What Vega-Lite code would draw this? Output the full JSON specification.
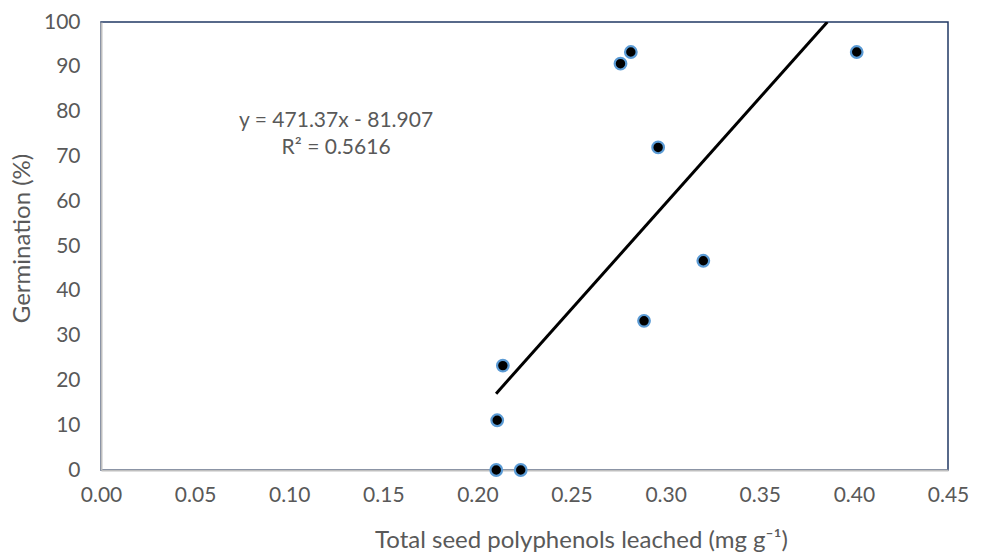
{
  "$schema": "https://vega.github.io/schema/vega-lite/v6.json",
  "width": 847,
  "height": 448,
  "autosize": {"type": "none"},
  "padding": {"left": 101, "top": 22, "right": 34, "bottom": 82},
  "background": "white",
  "config": {
    "font": "Lato",
    "view": {"stroke": "#203864", "strokeWidth": 1.5},
    "axis": {"labelFont": "Lato", "titleFont": "Lato", "labelColor": "#595959", "titleColor": "#595959", "labelFontSize": 21, "titleFontSize": 24, "titleFontWeight": "normal", "grid": false, "ticks": false, "labelFlush": false, "labelOverlap": false, "domainColor": "#BFBFBF", "domainWidth": 2}
  },
  "datasets": {
    "pts": [
      {"x": 0.210, "y": 0},
      {"x": 0.223, "y": 0},
      {"x": 0.2105, "y": 11.1},
      {"x": 0.2135, "y": 23.3},
      {"x": 0.276, "y": 90.7},
      {"x": 0.2815, "y": 93.3},
      {"x": 0.296, "y": 72.0},
      {"x": 0.2885, "y": 33.3},
      {"x": 0.320, "y": 46.7},
      {"x": 0.4015, "y": 93.3}
    ],
    "trend": [
      {"x": 0.2099, "y": 17.03},
      {"x": 0.3859, "y": 100}
    ],
    "label": [
      {"x": 0.1249, "y": 77.8, "t": ["y = 471.37x - 81.907", "R² = 0.5616"]}
    ]
  },
  "layer": [
    {
      "data": {"name": "trend"},
      "mark": {"type": "line", "color": "black", "strokeWidth": 3, "clip": true},
      "encoding": {
        "x": {"field": "x", "type": "quantitative", "scale": {"domain": [0, 0.45], "nice": false, "zero": false},
          "axis": {"values": [0, 0.05, 0.1, 0.15, 0.2, 0.25, 0.3, 0.35, 0.4, 0.45], "format": ".2f", "labelPadding": 14, "title": "Total seed polyphenols leached (mg g⁻¹)", "titleX": 480, "titleY": 70, "titleBaseline": "middle", "titleAnchor": null}},
        "y": {"field": "y", "type": "quantitative", "scale": {"domain": [0, 100], "nice": false},
          "axis": {"values": [0, 10, 20, 30, 40, 50, 60, 70, 80, 90, 100], "labelPadding": 21, "title": "Germination (%)", "titleX": -79, "titleY": 216, "titleBaseline": "middle", "titleAngle": -90}}
      }
    },
    {
      "data": {"name": "pts"},
      "mark": {"type": "point", "shape": "circle", "filled": true, "fill": "black", "stroke": "#5B9BD5", "strokeWidth": 2.2, "size": 135, "opacity": 1},
      "encoding": {
        "x": {"field": "x", "type": "quantitative"},
        "y": {"field": "y", "type": "quantitative"}
      }
    },
    {
      "data": {"name": "label"},
      "mark": {"type": "text", "fontSize": 21, "color": "#595959", "align": "center", "baseline": "middle", "lineHeight": 27},
      "encoding": {
        "x": {"field": "x", "type": "quantitative"},
        "y": {"field": "y", "type": "quantitative"},
        "text": {"field": "t"}
      }
    }
  ]
}
